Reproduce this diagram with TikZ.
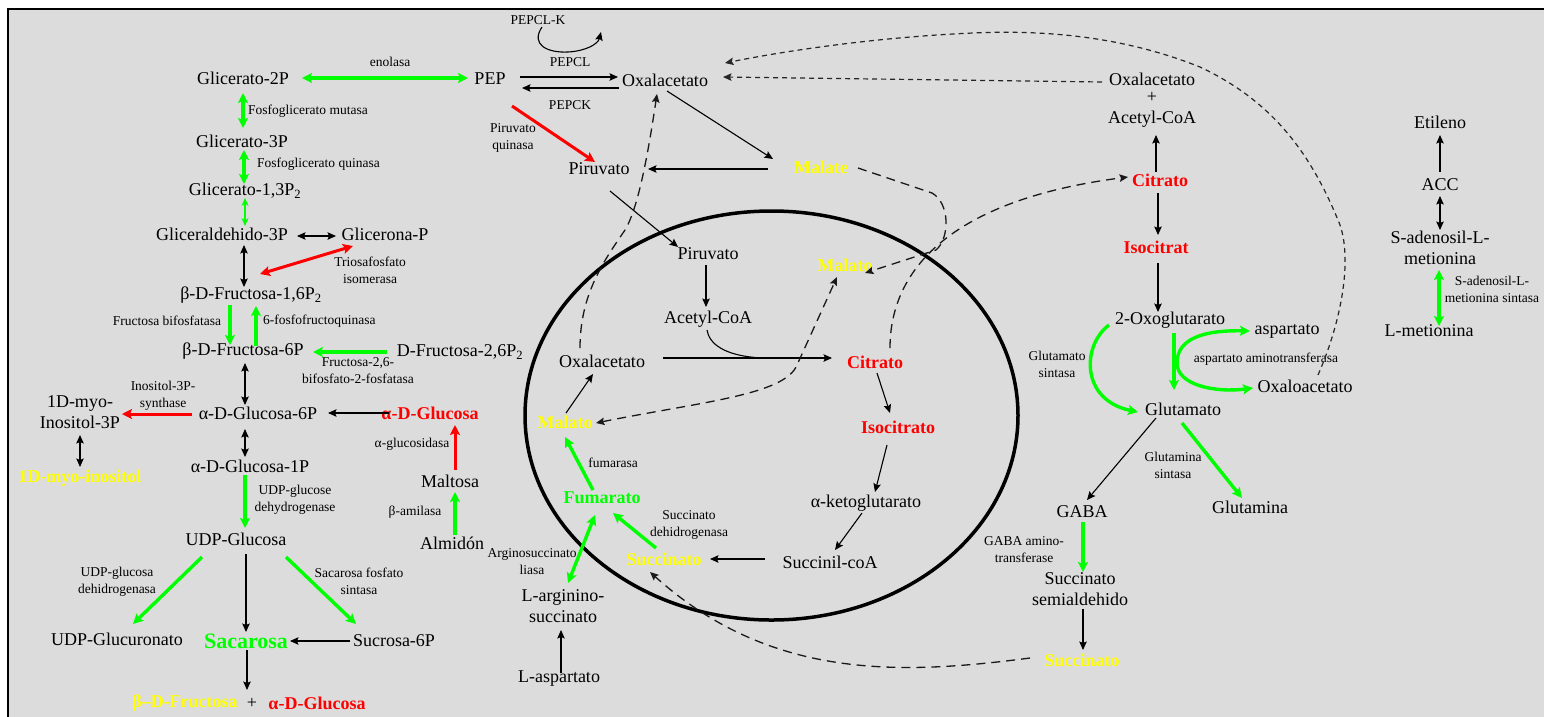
\documentclass[tikz,border=0pt]{standalone}
\usepackage{fontspec}
\setmainfont{Liberation Serif}
\usetikzlibrary{arrows.meta,calc}
\definecolor{bggray}{RGB}{220,220,220}
\definecolor{pgreen}{RGB}{0,255,0}
\definecolor{pred}{RGB}{255,0,0}
\definecolor{pyellow}{RGB}{255,255,0}

\begin{document}
\begin{tikzpicture}[x=1pt,y=-1pt,
  met/.style={font=\fontsize{18}{20.5}\selectfont, inner sep=1pt, align=center},
  enz/.style={font=\fontsize{13.5}{17}\selectfont, inner sep=1pt, align=center},
  hl/.style={font=\fontsize{18}{20}\selectfont\bfseries, inner sep=1pt, text=#1},
  btip/.tip={Stealth[length=8.5pt,width=7.5pt,inset=1.5pt]},
  gtip/.tip={Stealth[length=10pt,width=10pt,inset=2pt]},
  arr/.style={draw=black, line width=1.1pt, -btip},
  darr/.style={draw=black, line width=1.1pt, btip-btip},
  garr/.style={draw=pgreen, line width=3.4pt, -gtip},
  gdarr/.style={draw=pgreen, line width=3.4pt, gtip-gtip},
  rarr/.style={draw=pred, line width=3pt, -gtip},
  rdarr/.style={draw=pred, line width=3pt, gtip-gtip},
  dsh/.style={draw=black!90, line width=1.3pt, dash pattern=on 9pt off 6pt},
  sdsh/.style={draw=black!85, line width=1.2pt, dash pattern=on 5pt off 4pt},
]
\useasboundingbox (0,0) rectangle (1544,716);
% page and panel
\fill[white] (0,0) rectangle (1544,716);
\fill[bggray] (7.5,8.5) rectangle (1560,730);
\draw[line width=2pt] (7.5,730) -- (7.5,8.5) -- (1560,8.5);

% mitochondrion
\draw[line width=3.5pt] (771.5,415.5) ellipse [x radius=246.5pt, y radius=204.5pt];

% ---------- glycolysis / sugar side ----------
\node[met] (g2p) at (243,78) {Glicerato-2P};
\node[met] (pep) at (490,79) {PEP};
\node[met] (g3p) at (242,141) {Glicerato-3P};
\node[met] (g13) at (245,191) {Glicerato-1,3P\textsubscript{2}};
\node[met] (gald) at (222,234) {Gliceraldehido-3P};
\node[met] (glna) at (385,234) {Glicerona-P};
\node[met] (f16) at (251,295) {β-D-Fructosa-1,6P\textsubscript{2}};
\node[met] (f6p) at (243,351) {β-D-Fructosa-6P};
\node[met] (f26) at (460,352) {D-Fructosa-2,6P\textsubscript{2}};
\node[met] (g6p) at (258,413) {α-D-Glucosa-6P};
\node[met] (ino3p) at (80,412) {1D-myo-\\Inositol-3P};
\node[hl=pyellow] (myoino) at (80,478) {1D-myo-inositol};
\node[met] (g1p) at (250,466) {α-D-Glucosa-1P};
\node[met] (udpg) at (236,539) {UDP-Glucosa};
\node[met] (udpgu) at (117,639) {UDP-Glucuronato};
\node[hl=pgreen, font=\fontsize{22}{24}\selectfont\bfseries] (sacar) at (246,641) {Sacarosa};
\node[met] (suc6p) at (394,641) {Sucrosa-6P};
\node[hl=pyellow] (bfru) at (185,703) {β–D-Fructosa};
\node[met] (plus) at (252,703) {+};
\node[hl=pred] (aglc2) at (317,703) {α-D-Glucosa};
\node[hl=pred] (aglc) at (430,413) {α-D-Glucosa};
\node[met] (maltosa) at (450,481) {Maltosa};
\node[met] (almidon) at (452,543) {Almidón};

% ---------- cytosol / mitochondrion ----------
\node[met] (oxa) at (665,80) {Oxalacetato};
\node[met] (pir) at (599,169) {Piruvato};
\node[hl=pyellow] (malate) at (821,167) {Malate};
\node[met] (pir2) at (708,254) {Piruvato};
\node[met] (acoa) at (708,319) {Acetyl-CoA};
\node[met] (oxa2) at (602,361) {Oxalacetato};
\node[hl=pred] (citr2) at (875,362) {Citrato};
\node[hl=pyellow] (malato2) at (845,265) {Malato};
\node[hl=pyellow] (malato3) at (565,422) {Malato};
\node[hl=pred] (isoc2) at (898,427) {Isocitrato};
\node[met] (akg) at (866,503) {α-ketoglutarato};
\node[met] (sucoa) at (830,562) {Succinil-coA};
\node[hl=pyellow] (succ2) at (664,559) {Succinato};
\node[hl=pgreen] (fum) at (602,498) {Fumarato};
\node[met] (larg) at (563,606) {L-arginino-\\succinato};
\node[met] (lasp) at (559,679) {L-aspartato};

% ---------- right side ----------
\node[met] (oaa) at (1152,100) {Oxalacetato\\[-3pt]+\\Acetyl-CoA};
\node[hl=pred] (citr) at (1160,180) {Citrato};
\node[hl=pred] (isoc) at (1156,247) {Isocitrat};
\node[met] (oxg) at (1170,320) {2-Oxoglutarato};
\node[met] (asp) at (1287,331) {aspartato};
\node[met] (oxaloa) at (1305,386) {Oxaloacetato};
\node[met] (glu) at (1183,409) {Glutamato};
\node[met] (gaba) at (1082,512) {GABA};
\node[met] (gln) at (1250,507) {Glutamina};
\node[met] (ssa) at (1080,589) {Succinato\\semialdehido};
\node[hl=pyellow] (succ) at (1082,660) {Succinato};
\node[met] (etil) at (1440,122) {Etileno};
\node[met] (acc) at (1440,185) {ACC};
\node[met] (sam) at (1440,248) {S-adenosil-L-\\metionina};
\node[met] (met) at (1429,331) {L-metionina};

% ---------- enzyme labels ----------
\node[enz] (e1) at (390,62) {enolasa};
\node[enz, anchor=west] (e2) at (247,111) {Fosfoglicerato mutasa};
\node[enz, anchor=west] (e3) at (256,164) {Fosfoglicerato quinasa};
\node[enz] (e4) at (370,270) {Triosafosfato\\isomerasa};
\node[enz] (e5) at (167,321) {Fructosa bifosfatasa};
\node[enz, anchor=west] (e6) at (262,321) {6-fosfofructoquinasa};
\node[enz] (e7) at (358,371) {Fructosa-2,6-\\bifosfato-2-fosfatasa};
\node[enz] (e8) at (163,396) {Inositol-3P-\\synthase};
\node[enz] (e9) at (412,444) {α-glucosidasa};
\node[enz] (e10) at (295,500) {UDP-glucose\\dehydrogenase};
\node[enz] (e11) at (117,582) {UDP-glucosa\\dehidrogenasa};
\node[enz] (e12) at (359,581) {Sacarosa fosfato\\sintasa};
\node[enz] (e13) at (415,512) {β-amilasa};
\node[enz] (e14) at (538,20) {PEPCL-K};
\node[enz] (e15) at (570,62) {PEPCL};
\node[enz] (e16) at (570,105) {PEPCK};
\node[enz] (e17) at (513,138) {Piruvato\\quinasa};
\node[enz] (e18) at (613,463) {fumarasa};
\node[enz] (e19) at (689,525) {Succinato\\dehidrogenasa};
\node[enz] (e20) at (532,562) {Arginosuccinato\\liasa};
\node[enz] (e21) at (1057,364) {Glutamato\\sintasa};
\node[enz] (e22) at (1266,359) {aspartato aminotransferasa};
\node[enz] (e23) at (1173,465) {Glutamina\\sintasa};
\node[enz] (e24) at (1024,550) {GABA amino-\\transferase};
\node[enz] (e25) at (1492,289) {S-adenosil-L-\\metionina sintasa};

% ---------- connectors: glycolysis ----------
\draw[gdarr] ($(g2p)+(59,0)$) -- ($(pep)+(-22,-1)$);
\draw[gdarr] ($(g2p)+(0,15)$) -- ($(g3p)+(1,-13)$);
\draw[gdarr] ($(g3p)+(2,9)$) -- ($(g13)+(-1,-7)$);
\draw[draw=pgreen, line width=2pt, {Stealth[length=8pt,width=7pt]}-{Stealth[length=8pt,width=7pt]}] ($(g13)+(0,7)$) -- ($(gald)+(23,-8)$);
\draw[darr] ($(gald)+(75,2)$) -- ($(glna)+(-49,2)$);
\draw[darr] ($(gald)+(22,11)$) -- ($(f16)+(-7,-8)$);
\draw[rdarr] ($(f16)+(9,-21)$) -- ($(glna)+(-32,12)$);
\draw[garr] ($(f16)+(-21,10)$) -- ($(f6p)+(-13,-6)$);
\draw[garr] ($(f6p)+(13,-5)$) -- ($(f16)+(5,11)$);
\draw[garr] ($(f26)+(-73,0)$) -- ($(f6p)+(70,1)$);
\draw[darr] ($(f6p)+(2,12)$) -- ($(g6p)+(-13,-8)$);
\draw[arr] ($(aglc)+(-41,0)$) -- ($(g6p)+(70,0)$);
\draw[rarr] ($(g6p)+(-66,1)$) -- ($(ino3p)+(42,2)$);
\draw[darr] ($(ino3p)+(0,23)$) -- ($(myoino)+(0,-11)$);
\draw[darr] ($(g6p)+(-13,16)$) -- ($(g1p)+(-5,-9)$);
\draw[garr] ($(g1p)+(-5,9)$) -- ($(udpg)+(9,-11)$);
\draw[garr] ($(udpg)+(-34,18)$) -- ($(udpgu)+(16,-15)$);
\draw[arr] ($(udpg)+(10,15)$) -- ($(sacar)+(0,-9)$);
\draw[garr] ($(udpg)+(50,18)$) -- ($(suc6p)+(-38,-17)$);
\draw[arr] ($(suc6p)+(-44,0)$) -- ($(sacar)+(44,0)$);
\draw[arr] ($(sacar)+(1,9)$) -- ($(plus)+(-5,-13)$);
\draw[rarr] ($(maltosa)+(5,-11)$) -- ($(aglc)+(25,12)$);
\draw[garr] ($(almidon)+(3,-8)$) -- ($(maltosa)+(5,11)$);

% ---------- connectors: PEP / oxalacetate ----------
\draw[arr] ($(pep)+(30,-2)$) -- ($(oxa)+(-47,-3)$);
\draw[arr] ($(oxa)+(-46,8)$) -- ($(pep)+(32,9)$);
\draw[arr] ($(e14)+(4,7)$) .. controls ($(e14)+(-8,25)$) and ($(e14)+(10,33)$) .. ($(e14)+(30,32)$)
   .. controls ($(e14)+(48,31)$) and ($(e14)+(60,24)$) .. ($(e14)+(63,12)$);
\draw[rarr] ($(pep)+(22,27)$) -- ($(pir)+(-4,-7)$);
\draw[arr] ($(malate)+(-53,2)$) -- ($(pir)+(49,0)$);
\draw[arr] ($(oxa)+(2,11)$) -- ($(malate)+(-48,-8)$);
\draw[arr] ($(pir)+(11,22)$) -- ($(pir2)+(-30,-7)$);

% ---------- connectors: Krebs cycle ----------
\draw[arr] ($(pir2)+(-2,11)$) -- ($(acoa)+(-2,-12)$);
\draw[line width=1.1pt] ($(acoa)+(-1,11)$) .. controls ($(acoa)+(1,24)$) and ($(acoa)+(15,37)$) .. ($(acoa)+(54,39)$);
\draw[arr] ($(oxa2)+(61,-3)$) -- ($(citr2)+(-43,-4)$);
\draw[arr] ($(malato3)+(1,-9)$) -- ($(oxa2)+(-9,13)$);
\draw[arr] ($(citr2)+(2,11)$) -- ($(isoc2)+(-8,-14)$);
\draw[arr] ($(isoc2)+(-11,18)$) -- ($(akg)+(9,-11)$);
\draw[arr] ($(akg)+(-4,10)$) -- ($(sucoa)+(5,-12)$);
\draw[arr] ($(sucoa)+(-65,-3)$) -- ($(succ2)+(46,0)$);
\draw[garr] ($(succ2)+(-8,-11)$) -- ($(fum)+(11,15)$);
\draw[garr] ($(fum)+(-9,-8)$) -- ($(malato3)+(0,15)$);
\draw[gdarr] ($(fum)+(-7,17)$) -- ($(larg)+(5,-23)$);
\draw[arr] ($(lasp)+(2,-6)$) -- ($(larg)+(-2,24)$);

% ---------- transport (dashed) ----------
\draw[dsh, -btip] ($(oxa2)+(-22,-13)$) .. controls (580,295) and (603,262) .. (625,230)
   .. controls (640,205) and (650,140) .. ($(oxa)+(-8,14)$);
\draw[dsh, btip-btip] ($(malato3)+(31,1)$) .. controls (700,402) and (785,395) .. (797,365) -- ($(malato2)+(-8,12)$);
\draw[dsh, -btip] ($(malate)+(37,1)$) -- (932,193) .. controls (950,203) and (950,238) .. (936,250) -- ($(malato2)+(20,8)$);
\draw[dsh, -btip] ($(citr2)+(15,-14)$) .. controls (890,270) and (950,200) .. ($(citr)+(-32,-3)$);
\draw[sdsh, -btip] ($(oaa)+(-50,-18)$) -- ($(oxa)+(58,-3)$);
\draw[sdsh, -btip] ($(oxaloa)+(13,-11)$) .. controls (1342,320) and (1352,260) .. (1340,225)
   .. controls (1310,150) and (1270,100) .. (1200,67)
   .. controls (1120,35) and (1040,30) .. (973,33)
   .. controls (880,37) and (790,50) .. ($(oxa)+(60,-17)$);
\draw[dsh, -btip] ($(succ)+(-52,-2)$) .. controls (900,675) and (770,680) .. ($(succ2)+(-14,13)$);

% ---------- connectors: right side ----------
\draw[arr] ($(citr)+(-4,-8)$) -- ($(oaa)+(4,35)$);
\draw[arr] ($(citr)+(-2,13)$) -- ($(isoc)+(2,-12)$);
\draw[arr] ($(isoc)+(2,16)$) -- ($(oxg)+(-12,-8)$);
\draw[garr] ($(oxg)+(-61,5)$) .. controls (1082,345) and (1080,400) .. ($(glu)+(-45,3)$);
\draw[garr] ($(oxg)+(4,13)$) -- ($(glu)+(-9,-19)$);
\draw[garr] ($(glu)+(-6,-46)$) .. controls (1177,338) and (1205,330) .. ($(asp)+(-37,0)$);
\draw[garr] ($(glu)+(-6,-46)$) .. controls (1177,385) and (1215,393) .. ($(oxaloa)+(-52,2)$);
\draw[arr] ($(glu)+(-27,9)$) -- ($(gaba)+(5,-12)$);
\draw[garr] ($(glu)+(-1,14)$) -- ($(gln)+(-8,-9)$);
\draw[garr] ($(gaba)+(1,10)$) -- ($(ssa)+(3,-17)$);
\draw[arr] ($(ssa)+(3,20)$) -- ($(succ)+(1,-10)$);
\draw[arr] ($(acc)+(0,-13)$) -- ($(etil)+(0,13)$);
\draw[darr] ($(acc)+(0,11)$) -- ($(sam)+(0,-18)$);
\draw[gdarr] ($(sam)+(-1,22)$) -- ($(met)+(10,-5)$);
\end{tikzpicture}
\end{document}
